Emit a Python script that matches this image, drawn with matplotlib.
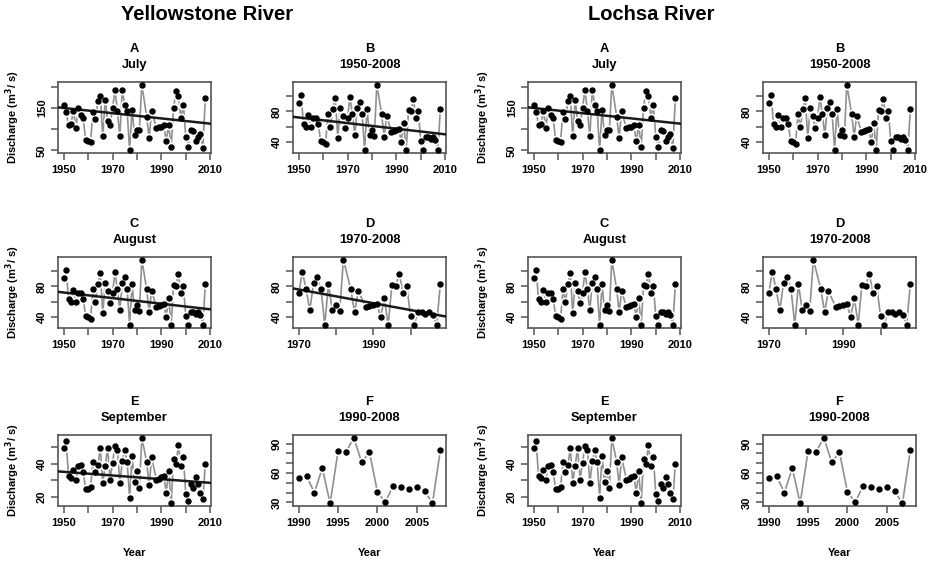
import numpy as np
import matplotlib
matplotlib.use("Agg")
import matplotlib.pyplot as plt
from matplotlib.ticker import FixedLocator, NullFormatter

nan = np.nan
years = np.arange(1950, 2009)

# mean monthly discharge (m3/s)
july = [158, 140, 110, 112, 144, 102, 150, 133, 126, 74,
        72, 70, 141, 124, 166, 179, 83, 169, 120, 110,
        149, 193, 142, 83, 193, 158, 142, 50, 146, 87,
        98, 98, 205, nan, 129, 79, 142, nan, 102, 104,
        104, 110, 71, 110, 58, 150, 190, 179, 126, 158,
        82, 58, 98, 96, 72, 82, 88, 56, 173]
august = [91, 102, 63, 60, 75, 60, 71, 71, 64, 41,
          40, 37, 76, 60, 83, 97, 45, 84, 74, 58,
          71, 99, 76, 49, 85, 92, 76, 30, 83, 49,
          55, 48, 115, nan, 76, 46, 74, nan, 53, 54,
          55, 57, 40, 65, 29, 82, 81, 96, 71, 81,
          41, 30, 47, 46, 44, 46, 42, 29, 83]
september = [49.5, 54, 32.5, 31.5, 36.5, 30.5, 38.5, 39.5, 35, 25,
             24.5, 26, 41, 35, 39.5, 49.5, 28.5, 39, 49.5, 30.5,
             40.5, 51, 48.5, 28.5, 41.5, 48.5, 41, 19.5, 45, 29,
             35.5, 25.5, 56, nan, 41, 27, 44, nan, 30.5, 31,
             32, 32.5, 22.5, 35.5, 16, 43, 40, 51.5, 39, 44,
             22, 17.5, 28, 25.5, 32, 27.5, 22.5, 18.5, 40]

# trend lines as two (year, value) points
trend_july = [(1950, 150), (2010, 113)]
trend_aug = [(1950, 72), (2010, 50)]
trend_aug_1970 = [(1970, 76), (2009, 41)]
trend_sep = [(1950, 35.2), (2010, 28.5)]

rivers = ["Yellowstone River", "Lochsa River"]
river_title_x = [207, 651]
col_left = [[58, 293], [528, 763]]
row_top = [82, 257, 435]
box_w, box_h = 153, 71

panels = [
    # letter, subtitle, series, start, end, yticks, ylabels, xticks, xlabels
    ("A", "July", july, 1950, 2008, [50, 100, 150, 200], [50, 150],
     [1950, 1960, 1970, 1980, 1990, 2000, 2010], [1950, 1970, 1990, 2010]),
    ("B", "1950-2008", august, 1950, 2008, [40, 60, 80, 100], [40, 80],
     [1950, 1960, 1970, 1980, 1990, 2000, 2010], [1950, 1970, 1990, 2010]),
    ("C", "August", august, 1950, 2008, [40, 60, 80, 100], [40, 80],
     [1950, 1960, 1970, 1980, 1990, 2000, 2010], [1950, 1970, 1990, 2010]),
    ("D", "1970-2008", august, 1970, 2008, [40, 60, 80, 100], [40, 80],
     [1970, 1980, 1990, 2000], [1970, 1990]),
    ("E", "September", september, 1950, 2008, [20, 30, 40, 50], [20, 40],
     [1950, 1960, 1970, 1980, 1990, 2000, 2010], [1950, 1970, 1990, 2010]),
    ("F", "1990-2008", august, 1990, 2008, [30, 40, 50, 60, 70, 80, 90], [30, 60, 90],
     [1990, 1995, 2000, 2005], [1990, 1995, 2000, 2005]),
]
trends = [
    [trend_july, trend_aug, trend_aug, trend_aug_1970, trend_sep, None],
    [trend_july, None, None, None, None, None],
]

plt.rcParams['font.family'] = ['Liberation Sans', 'DejaVu Sans']
plt.rcParams['font.weight'] = 'bold'
W, H = 935, 564
fig = plt.figure(figsize=(W / 100, H / 100), dpi=100)

for r, river in enumerate(rivers):
    fig.text(river_title_x[r] / W, 1 - 14 / H, river, ha='center', va='center',
             fontsize=14.5, fontweight='bold')
    for p, (letter, sub, series, y0, y1, yt, yl, xt, xl) in enumerate(panels):
        row, col = p // 2, p % 2
        left = col_left[r][col]
        top = row_top[row]
        ax = fig.add_axes([left / W, 1 - (top + box_h) / H, box_w / W, box_h / H])
        yrs = years
        vals = np.array(series, dtype=float)
        mask = (yrs >= y0) & (yrs <= y1)
        yrs, vals = yrs[mask], vals[mask]
        ok = ~np.isnan(vals)

        ax.plot(yrs[ok], vals[ok], color='#909090', lw=1.2, zorder=1)
        ax.plot(yrs[ok], vals[ok], 'o', ms=6, color='white', mec='white', zorder=2)
        tr = trends[r][p]
        if tr is not None:
            ax.axline(tr[0], tr[1], color='#1a1a1a', lw=1.8, zorder=3)
        ax.plot(yrs[ok], vals[ok], 'o', ms=3.6, color='black', zorder=4)

        span = y1 - y0
        ax.set_xlim(y0 - 0.04 * span, y1 + 0.04 * span)
        lo, hi = np.nanmin(vals), np.nanmax(vals)
        ax.set_ylim(lo - 0.04 * (hi - lo), hi + 0.04 * (hi - lo))

        ax.xaxis.set_major_locator(FixedLocator(xl))
        ax.xaxis.set_minor_locator(FixedLocator([x for x in xt if x not in xl]))
        ax.yaxis.set_major_locator(FixedLocator(yl))
        ax.yaxis.set_minor_locator(FixedLocator([y for y in yt if y not in yl]))
        ax.xaxis.set_minor_formatter(NullFormatter())
        ax.yaxis.set_minor_formatter(NullFormatter())
        ax.tick_params(which='both', direction='out', length=5, width=1.1,
                       color='#555555', labelsize=8)
        ax.tick_params(axis='x', pad=4)
        ax.tick_params(axis='y', pad=3)
        for lab in ax.get_yticklabels():
            lab.set_rotation(90)
            lab.set_va('center')
        for s in ax.spines.values():
            s.set_color('#555555')
            s.set_linewidth(1.2)

        ax.text(0.5, 1 + 33 / box_h, letter, transform=ax.transAxes, ha='center',
                va='center', fontsize=9.3, fontweight='bold')
        ax.text(0.5, 1 + 17 / box_h, sub, transform=ax.transAxes, ha='center',
                va='center', fontsize=9.3, fontweight='bold')
        if col == 0:
            ax.set_ylabel('Discharge (m$^\\mathbf{3}$/ s)', fontsize=8, fontweight='bold')
            ax.yaxis.set_label_coords(-36 / box_w, 0.5)
        if row == 2:
            ax.set_xlabel('Year', fontsize=8, fontweight='bold')
            ax.xaxis.set_label_coords(0.5, -42 / box_h)

fig.savefig('out.png', dpi=100)
